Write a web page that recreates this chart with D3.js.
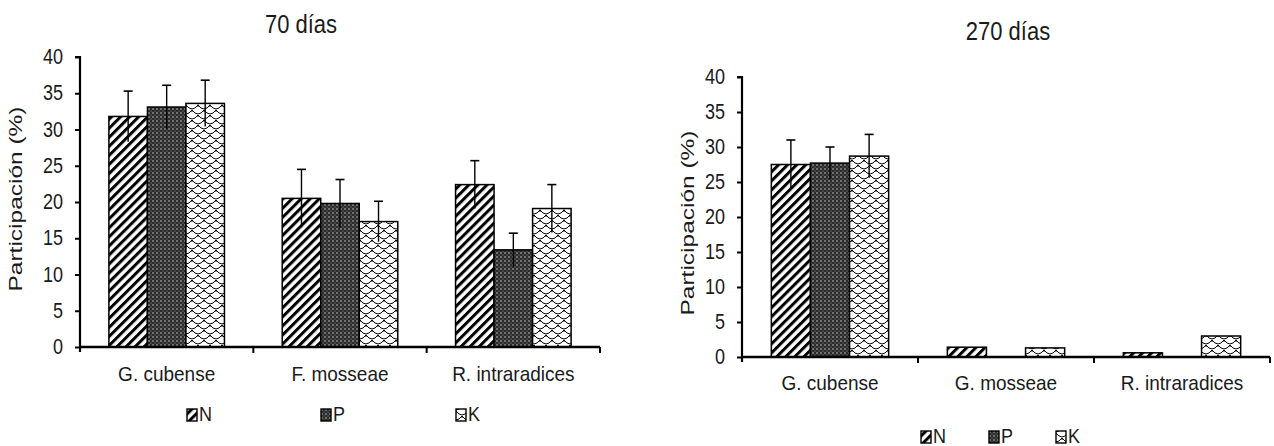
<!DOCTYPE html>
<html><head><meta charset="utf-8">
<script src="https://cdn.jsdelivr.net/npm/d3@7"></script>
<style>
body{margin:0;background:#fff;}
text{font-family:"Liberation Sans",Arial,sans-serif;fill:#1a1a1a;}
</style></head>
<body>
<svg id="c" width="1274" height="446"></svg>
<script>
const series = ["N","P","K"];
const categories70 = ["G. cubense","F. mosseae","R. intraradices"];
const n70 = [31.8,20.5,22.4];
const p70 = [33.1,19.8,13.4];
const k70 = [33.6,17.3,19.1];
const n70err = [3.5,4.0,3.3];
const p70err = [3.0,3.3,2.3];
const k70err = [3.2,2.8,3.3];
const categories270 = ["G. cubense","G. mosseae","R. intraradices"];
const n270 = [27.5,1.4,0.6];
const p270 = [27.7,0,0];
const k270 = [28.7,1.3,3.0];
const n270err = [3.5,0,0];
const p270err = [2.3,0,0];
const k270err = [3.1,0,0];
const yTicks = [0,5,10,15,20,25,30,35,40];

const svg = d3.select("#c");
const defs = svg.append("defs");
// N: diagonal stripes
const pN = defs.append("pattern").attr("id","patN").attr("patternUnits","userSpaceOnUse")
  .attr("width",6.4).attr("height",6.4).attr("patternTransform","rotate(45)");
pN.append("rect").attr("width",6.4).attr("height",6.4).attr("fill","#fff");
pN.append("rect").attr("x",0).attr("width",3).attr("height",6.4).attr("fill","#000");
// P: dark with white dots
const pP = defs.append("pattern").attr("id","patP").attr("patternUnits","userSpaceOnUse")
  .attr("width",4).attr("height",4);
pP.append("rect").attr("width",4).attr("height",4).attr("fill","#2b2b2b");
pP.append("circle").attr("cx",1).attr("cy",1).attr("r",0.75).attr("fill","#d8d8d8");
pP.append("circle").attr("cx",3).attr("cy",3).attr("r",0.55).attr("fill","#9a9a9a");
// K: wavy scales
const pK = defs.append("pattern").attr("id","patK").attr("patternUnits","userSpaceOnUse")
  .attr("width",12).attr("height",10);
pK.append("rect").attr("width",12).attr("height",10).attr("fill","#fff");
pK.append("path").attr("d","M0,0 Q6,8 12,0 M-6,5 Q0,13 6,5 M6,5 Q12,13 18,5 M0,10 Q6,18 12,10 M0,0 L0,2 M12,0 L12,2 M6,5 L6,7")
  .attr("fill","none").attr("stroke","#000").attr("stroke-width",1);
const fills = {N:"url(#patN)",P:"url(#patP)",K:"url(#patK)"};

// text with vertical stretch
function stext(sel, x, y, str, size, sy, anchor){
  const g = sel.append("g").attr("transform",`translate(${x},${y}) scale(1,${sy})`);
  g.append("text").attr("text-anchor",anchor||"middle").style("font-size",size+"px").text(str);
  return g;
}

function panel(cfg){
  const g = svg.append("g");
  const x0 = d3.scaleBand().domain(cfg.categories).range([cfg.left,cfg.right]).paddingInner(0).paddingOuter(0);
  const x1 = d3.scaleBand().domain(series).range([0,x0.bandwidth()]).paddingInner(0).paddingOuter(0.75);
  const y = d3.scaleLinear().domain([0,40]).range([cfg.bottom,cfg.top]);
  const vals = {N:cfg.n,P:cfg.p,K:cfg.k};
  const errs = {N:cfg.ne,P:cfg.pe,K:cfg.ke};
  const data = [];
  cfg.categories.forEach((c,i)=>series.forEach(s=>data.push({c,s,v:vals[s][i],e:errs[s][i]})));
  g.selectAll("rect.bar").data(data.filter(d=>d.v>0)).join("rect").attr("class","bar")
    .attr("x",d=>x0(d.c)+x1(d.s)).attr("width",x1.bandwidth())
    .attr("y",d=>y(d.v)).attr("height",d=>y(0)-y(d.v))
    .attr("fill",d=>fills[d.s]).attr("stroke","#000").attr("stroke-width",1.5);
  const eb = g.selectAll("g.err").data(data.filter(d=>d.e>0)).join("g").attr("class","err");
  const cx = d=>x0(d.c)+x1(d.s)+x1.bandwidth()/2;
  eb.append("line").attr("x1",cx).attr("x2",cx)
    .attr("y1",d=>y(d.v-d.e)).attr("y2",d=>y(d.v+d.e)).attr("stroke","#000").attr("stroke-width",1.4);
  eb.append("line").attr("x1",d=>cx(d)-4.5).attr("x2",d=>cx(d)+4.5)
    .attr("y1",d=>y(d.v+d.e)).attr("y2",d=>y(d.v+d.e)).attr("stroke","#000").attr("stroke-width",1.6);
  // y axis
  const ya = g.append("g").attr("transform",`translate(${cfg.left},0)`)
    .call(d3.axisLeft(y).tickValues(yTicks).tickSize(5).tickPadding(12));
  ya.select(".domain").attr("stroke","#000").attr("stroke-width",2.2).attr("d",`M-5,${cfg.top}H0V${cfg.bottom+5}`);
  ya.selectAll(".tick line").attr("stroke","#000").attr("stroke-width",2);
  ya.selectAll(".tick text").remove();
  ya.selectAll(".tick").each(function(d){
    stext(d3.select(this), -17, 6.5, String(d), 18, 1.18, "end");
  });
  // x axis
  const xa = g.append("g").attr("transform",`translate(0,${cfg.bottom})`);
  xa.append("line").attr("x1",cfg.left).attr("x2",cfg.right).attr("stroke","#000").attr("stroke-width",2.4);
  xa.selectAll("line.t").data(cfg.categories.slice(1).map(c=>x0(c)).concat([cfg.right]))
    .join("line").attr("class","t").attr("x1",d=>d).attr("x2",d=>d).attr("y1",0).attr("y2",6)
    .attr("stroke","#000").attr("stroke-width",2);
  cfg.categories.forEach(c=>{
    stext(xa, x0(c)+x0.bandwidth()/2, cfg.catY-cfg.bottom, c, 19, 1.05, "middle");
  });
  // y label (stretched along its length)
  g.append("g").attr("transform",`translate(${cfg.ylabX},${cfg.ylabY}) rotate(-90) scale(1.4,1)`)
    .append("text").attr("text-anchor","middle").style("font-size","17.5px").text("Participación (%)");
  // title
  stext(g, cfg.titleX, cfg.titleY, cfg.title, 22, 1.2, "middle");
  // legend
  const lg = g.selectAll("g.leg").data(series).join("g").attr("class","leg")
    .attr("transform",(d,i)=>`translate(${cfg.legX[i]},${cfg.legY})`);
  lg.append("rect").attr("x",0).attr("y",-12).attr("width",10).attr("height",12)
    .attr("fill",d=>fills[d]).attr("stroke","#000").attr("stroke-width",1.4);
  lg.each(function(d){ stext(d3.select(this), 12, 0, d, 18, 1.12, "start"); });
}

panel({categories:categories70,n:n70,p:p70,k:k70,ne:n70err,pe:p70err,ke:k70err,
  left:80,right:600,top:57,bottom:347,catY:381,ylabX:22,ylabY:199,titleX:301,titleY:33,title:"70 días",
  legX:[187,321,456],legY:421});
panel({categories:categories270,n:n270,p:p270,k:k270,ne:n270err,pe:p270err,ke:k270err,
  left:742,right:1270,top:77,bottom:357,catY:390,ylabX:694,ylabY:223,titleX:1008,titleY:40,title:"270 días",
  legX:[921,989,1056],legY:443});
</script>
</body></html>
